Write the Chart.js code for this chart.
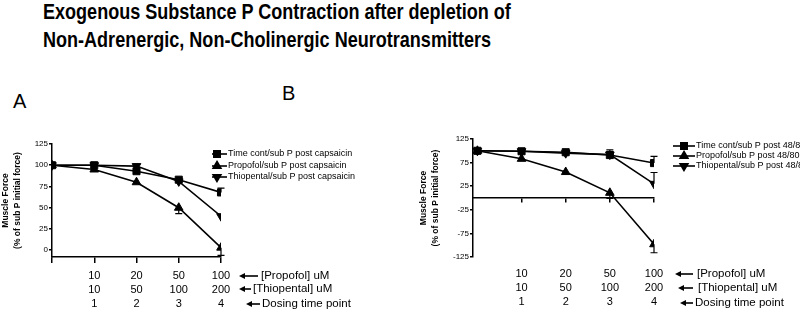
<!DOCTYPE html>
<html>
<head>
<meta charset="utf-8">
<script src="https://cdn.jsdelivr.net/npm/chart.js@4.4.1/dist/chart.umd.min.js"></script>
<style>
  body { margin: 0; background: #fff; width: 800px; height: 313px; position: relative; overflow: hidden; font-family: "Liberation Sans", Arial, sans-serif; }
  .title { position: absolute; left: 43px; top: -2px; font-family: "Liberation Sans", Arial, sans-serif; font-weight: bold; font-size: 22px; line-height: 28px; color: #000; white-space: nowrap; transform: scaleX(0.82); transform-origin: 0 0; }
  .panel { position: absolute; font-size: 20px; line-height: 20px; color: #000; }
  .wrap { position: absolute; top: 115px; width: 400px; height: 198px; }
</style>
</head>
<body>
<div class="title">Exogenous Substance P Contraction after depletion of<br>Non-Adrenergic, Non-Cholinergic Neurotransmitters</div>
<div class="panel" style="left:13px;top:91px">A</div>
<div class="panel" style="left:282px;top:83px">B</div>
<div class="wrap" style="left:0"><canvas id="chartA" width="400" height="198"></canvas></div>
<div class="wrap" style="left:400px"><canvas id="chartB" width="400" height="198"></canvas></div>

<script>
// dosing steps (0 = baseline)
const xs = [0, 1, 2, 3, 4];
const propofolDose = ['', '10', '20', '50', '100'];
const thiopentalDose = ['', '10', '50', '100', '200'];
const dosingPoint = ['', '1', '2', '3', '4'];
const rowNotes = ['[Propofol] uM', '[Thiopental] uM', 'Dosing time point'];

const yTicksA = [0, 25, 50, 75, 100, 125];
const yTicksB = [-125, -75, -25, 25, 75, 125];

const namesA = ['Time cont/sub P post capsaicin', 'Propofol/sub P post capsaicin', 'Thiopental/sub P post capsaicin'];
const namesB = ['Time cont/sub P post 48/80', 'Propofol/sub P post 48/80', 'Thiopental/sub P post 48/80'];

// panel A - after capsaicin
const timeA = [100, 100, 93, 83, 68];
const timeErrA = [0, 0, 0, 0, 5];
const propA = [100, 95, 80, 50, 3];
const propErrA = [0, 0, 0, 7, 9];
const thioA = [100, 100, 99, 81, 40];
const thioErrA = [0, 0, 0, 0, 0];

// panel B - after 48/80
const timeB = [100, 99, 97, 91, 74];
const timeErrB = [0, 0, 0, 11, 14];
const propB = [100, 83, 55, 11, -98];
const propErrB = [0, 0, 0, 12, 18];
const thioB = [100, 99, 95, 92, 30];
const thioErrB = [0, 0, 0, 0, 24];

Chart.defaults.font.family = '"Liberation Sans", Arial, sans-serif';
Chart.defaults.color = '#000';

const markerStyles = ['rect', 'triangle', 'triangle'];
const markerRot = [0, 0, 180];
const errDir = [1, -1, 1]; // one sided bars like prism

function makeSets(names, series, errs) {
    return series.map(function(vals, i) {
        return {
            label: names[i],
            data: xs.map((x, j) => ({ x: x, y: vals[j] })),
            errors: errs[i],
            errDir: errDir[i],
            borderColor: '#000',
            backgroundColor: '#000',
            borderWidth: 1.6,
            pointStyle: markerStyles[i],
            rotation: markerRot[i],
            pointRadius: 5,
            pointBorderWidth: 1,
            tension: 0
        };
    });
}

// error bars, drawn under the markers
const errorBars = {
    id: 'errorBars',
    beforeDatasetsDraw(chart) {
        const ctx = chart.ctx;
        const xScale = chart.scales.x;
        const yScale = chart.scales.y;
        ctx.save();
        ctx.strokeStyle = '#000';
        ctx.lineWidth = 1.2;
        chart.data.datasets.forEach(function(ds) {
            ds.data.forEach(function(p, j) {
                let e = ds.errors[j];
                if (!e) return;
                let px = xScale.getPixelForValue(p.x);
                let y0 = yScale.getPixelForValue(p.y);
                let y1 = yScale.getPixelForValue(p.y + ds.errDir * e);
                ctx.beginPath();
                ctx.moveTo(px, y0);
                ctx.lineTo(px, y1);
                ctx.moveTo(px - 3.5, y1);
                ctx.lineTo(px + 3.5, y1);
                ctx.stroke();
            });
        });
        ctx.restore();
    }
};

// legend with line + marker at the right of the plot
const sideLegend = {
    id: 'sideLegend',
    afterDraw(chart, args, opts) {
        const ctx = chart.ctx;
        const area = chart.chartArea;
        ctx.save();
        ctx.font = opts.fontSize + 'px "Liberation Sans", Arial, sans-serif';
        ctx.textBaseline = 'middle';
        ctx.fillStyle = '#000';
        chart.data.datasets.forEach(function(ds, i) {
            let y = area.top + opts.rows[i];
            let x0 = area.right + opts.lineX[0];
            let x1 = area.right + opts.lineX[1];
            ctx.strokeStyle = '#000';
            ctx.lineWidth = 1.6;
            ctx.beginPath();
            ctx.moveTo(x0, y);
            ctx.lineTo(x1, y);
            ctx.stroke();
            Chart.helpers.drawPoint(ctx, { pointStyle: ds.pointStyle, rotation: ds.rotation, radius: 4.5, borderWidth: 1 }, x0 + opts.markX, y);
            ctx.fillText(ds.label, area.right + opts.textX, y);
        });
        ctx.restore();
    }
};

// the arrows pointing to the dose rows under the x axis
const rowArrows = {
    id: 'rowArrows',
    afterDraw(chart, args, opts) {
        const ctx = chart.ctx;
        const area = chart.chartArea;
        const base = chart.scales.x2 ? chart.scales.x2.top : chart.scales.x.bottom - chart.scales.x.height;
        ctx.save();
        ctx.font = '11.5px "Liberation Sans", Arial, sans-serif';
        ctx.textBaseline = 'middle';
        ctx.fillStyle = '#000';
        ctx.strokeStyle = '#000';
        rowNotes.forEach(function(note, i) {
            let y = base + opts.rows[i];
            let a = opts.arrows[i];
            let x0 = area.right + a[0];
            let x1 = area.right + a[1];
            ctx.lineWidth = 1.6;
            ctx.beginPath();
            ctx.moveTo(x0 + 5, y);
            ctx.lineTo(x1, y);
            ctx.stroke();
            ctx.beginPath();
            ctx.moveTo(x0, y);
            ctx.lineTo(x0 + 6, y - 3);
            ctx.lineTo(x0 + 6, y + 3);
            ctx.closePath();
            ctx.fill();
            ctx.fillText(note, area.right + a[2], y);
        });
        ctx.restore();
    }
};

function tickLabel(v) {
    let i = xs.indexOf(v);
    if (i < 1) return '';
    return [propofolDose[i], thiopentalDose[i], dosingPoint[i]];
}

function yTitle(padTop) {
    return {
        display: true,
        text: ['Muscle Force', '(% of sub P initial force)'],
        font: { size: 8.5, weight: 'bold', lineHeight: '12px' },
        padding: { top: padTop, bottom: 0 }
    };
}

// ---- panel A ----
new Chart(document.getElementById('chartA'), {
    type: 'line',
    data: { datasets: makeSets(namesA, [timeA, propA, thioA], [timeErrA, propErrA, thioErrA]) },
    options: {
        responsive: false,
        animation: false,
        layout: { padding: { left: 0, right: 179, top: 29, bottom: 0 } },
        plugins: {
            legend: { display: false },
            tooltip: { enabled: false },
            sideLegend: { fontSize: 9, rows: [10, 22, 33], lineX: [-9, 6], markX: 5, textX: 7 },
            rowArrows: { rows: [19, 32, 47], arrows: [[18, 37, 40], [18, 30, 32], [25, 39, 41]] }
        },
        scales: {
            x: {
                type: 'linear', min: 0, max: 4,
                afterBuildTicks: s => { s.ticks = xs.map(v => ({ value: v })); },
                afterFit: s => { s.height = 56; },
                ticks: { autoSkip: false, maxRotation: 0, padding: 6, font: { size: 11, lineHeight: '14px' }, callback: tickLabel },
                grid: { drawOnChartArea: false, tickLength: 6, color: '#000', lineWidth: 1.5 },
                border: { color: '#000', width: 1.5 }
            },
            y: {
                min: -8, max: 125,
                afterBuildTicks: s => { s.ticks = yTicksA.map(v => ({ value: v })); },
                afterFit: s => { s.width = 52; },
                ticks: { padding: 1, font: { size: 8 } },
                grid: { drawOnChartArea: false, tickLength: 3, color: '#000', lineWidth: 1.5 },
                border: { color: '#000', width: 1.5 },
                title: yTitle(0)
            }
        }
    },
    plugins: [errorBars, sideLegend, rowArrows]
});

// ---- panel B ----
new Chart(document.getElementById('chartB'), {
    type: 'line',
    data: { datasets: makeSets(namesB, [timeB, propB, thioB], [timeErrB, propErrB, thioErrB]) },
    options: {
        responsive: false,
        animation: false,
        layout: { padding: { left: 0, right: 146, top: 24, bottom: 0 } },
        plugins: {
            legend: { display: false },
            tooltip: { enabled: false },
            sideLegend: { fontSize: 9, rows: [7, 17, 27], lineX: [19, 41], markX: 11, textX: 42 },
            rowArrows: { rows: [17, 31, 46], arrows: [[21, 39, 43], [24, 39, 44], [26, 39, 41]] }
        },
        scales: {
            x: {
                type: 'linear', min: -0.1, max: 4,
                position: { y: 0 },
                afterBuildTicks: s => { s.ticks = xs.slice(1).map(v => ({ value: v })); },
                ticks: { display: false },
                grid: { drawOnChartArea: false, tickLength: 4, color: '#000', lineWidth: 1.5 },
                border: { color: '#000', width: 1.5 }
            },
            x2: {
                type: 'linear', min: -0.1, max: 4, position: 'bottom',
                afterBuildTicks: s => { s.ticks = xs.map(v => ({ value: v })); },
                afterFit: s => { s.height = 56; },
                ticks: { autoSkip: false, maxRotation: 0, padding: 10, font: { size: 11, lineHeight: '14px' }, callback: tickLabel },
                grid: { display: false, drawTicks: false },
                border: { display: false }
            },
            y: {
                min: -125, max: 125,
                afterBuildTicks: s => { s.ticks = yTicksB.map(v => ({ value: v })); },
                afterFit: s => { s.width = 73; },
                ticks: { padding: 1, font: { size: 8 } },
                grid: { drawOnChartArea: false, tickLength: 3, color: '#000', lineWidth: 1.5 },
                border: { color: '#000', width: 1.5 },
                title: yTitle(18)
            }
        }
    },
    plugins: [errorBars, sideLegend, rowArrows]
});
</script>
</body>
</html>
